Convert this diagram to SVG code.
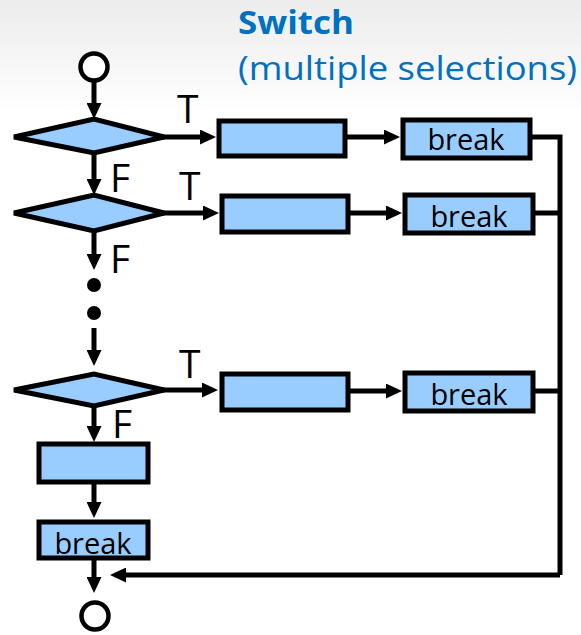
<svg xmlns="http://www.w3.org/2000/svg" width="581" height="635" viewBox="0 0 581 635">
<defs>
<linearGradient id="bg" x1="0" y1="0" x2="0" y2="1">
<stop offset="0" stop-color="#ececec"/>
<stop offset="1" stop-color="#ffffff"/>
</linearGradient>
<marker id="ah" markerUnits="userSpaceOnUse" viewBox="0 0 16 15" markerWidth="16" markerHeight="15" refX="10" refY="7.5" orient="auto">
<path d="M0,0 L16,7.5 L0,15 z" fill="#000"/>
</marker>
<style>
.box{fill:#99ccff;stroke:#000;stroke-width:5}
.dia{fill:#99ccff;stroke:#000;stroke-width:5;stroke-linejoin:miter}
.term{fill:#fff;stroke:#000;stroke-width:4.5}
.ln{fill:none;stroke:#000;stroke-width:5}
.ar{fill:none;stroke:#000;stroke-width:5;marker-end:url(#ah)}
.lbl{font-family:"Open Sans","Noto Sans",sans-serif;font-size:29px;fill:#000;text-anchor:middle}
.tf{font-family:"Open Sans","Noto Sans",sans-serif;font-size:39px;fill:#000}
.title{font-family:"Open Sans","Noto Sans",sans-serif;fill:#0070c0}
</style>
</defs>
<rect x="0" y="0" width="581" height="115" fill="url(#bg)"/>
<rect x="0" y="115" width="581" height="520" fill="#fff"/>

<g id="title">
<text class="title" x="238" y="34" font-size="33" font-weight="bold" textLength="116" lengthAdjust="spacingAndGlyphs">Switch</text>
<text class="title" x="238" y="80" font-size="32" textLength="339" lengthAdjust="spacingAndGlyphs">(multiple selections)</text>
</g>

<g id="connectors">
<line class="ar" x1="94" y1="82" x2="94" y2="113"/>
<line class="ar" x1="163" y1="137" x2="210" y2="137"/>
<line class="ar" x1="345" y1="137" x2="394" y2="137"/>
<polyline class="ln" points="530,137 560,137 560,575"/>
<line class="ar" x1="560" y1="575" x2="116" y2="575"/>
<line class="ar" x1="94" y1="153" x2="94" y2="189"/>
<line class="ar" x1="163" y1="213" x2="213" y2="213"/>
<line class="ar" x1="348" y1="213" x2="396" y2="213"/>
<line class="ln" x1="533" y1="213" x2="560" y2="213"/>
<line class="ar" x1="94" y1="232" x2="94" y2="264"/>
<circle cx="94" cy="285" r="7" fill="#000"/>
<circle cx="94" cy="313" r="7" fill="#000"/>
<line class="ar" x1="94" y1="328" x2="94" y2="360"/>
<line class="ar" x1="163" y1="390" x2="212" y2="390"/>
<line class="ar" x1="348" y1="391" x2="396" y2="391"/>
<line class="ln" x1="533" y1="391" x2="560" y2="391"/>
<line class="ar" x1="94" y1="406" x2="94" y2="436"/>
<line class="ar" x1="94" y1="482" x2="94" y2="512"/>
<line class="ar" x1="94" y1="558" x2="94" y2="587"/>
</g>

<g id="labels">
<text class="tf" x="177" y="123">T</text>
<text class="tf" x="110" y="192">F</text>
<text class="tf" x="179" y="200">T</text>
<text class="tf" x="110" y="273">F</text>
<text class="tf" x="179" y="378">T</text>
<text class="tf" x="112" y="438">F</text>
</g>

<g id="start"><circle class="term" cx="94" cy="67" r="13.5"/></g>

<g id="cond1"><polygon class="dia" points="14,137 94,119 164,137 94,153"/></g>
<g id="case1"><rect class="box" x="219" y="121" width="126" height="35"/></g>
<g id="break1"><rect class="box" x="403" y="120" width="127" height="38"/><text class="lbl" x="466" y="150">break</text></g>

<g id="cond2"><polygon class="dia" points="14,213 94,195 164,213 94,231"/></g>
<g id="case2"><rect class="box" x="222" y="196" width="126" height="36"/></g>
<g id="break2"><rect class="box" x="405" y="195" width="128" height="38"/><text class="lbl" x="469" y="227">break</text></g>

<g id="cond3"><polygon class="dia" points="14,390 94,374 164,390 94,406"/></g>
<g id="case3"><rect class="box" x="222" y="374" width="126" height="36"/></g>
<g id="break3"><rect class="box" x="405" y="373" width="128" height="38"/><text class="lbl" x="469" y="405">break</text></g>

<g id="default"><rect class="box" x="39" y="444" width="109" height="38"/></g>
<g id="break4"><rect class="box" x="39" y="522" width="109" height="36"/><text class="lbl" x="93" y="554">break</text></g>

<g id="end"><circle class="term" cx="95" cy="616" r="13.5"/></g>
</svg>
